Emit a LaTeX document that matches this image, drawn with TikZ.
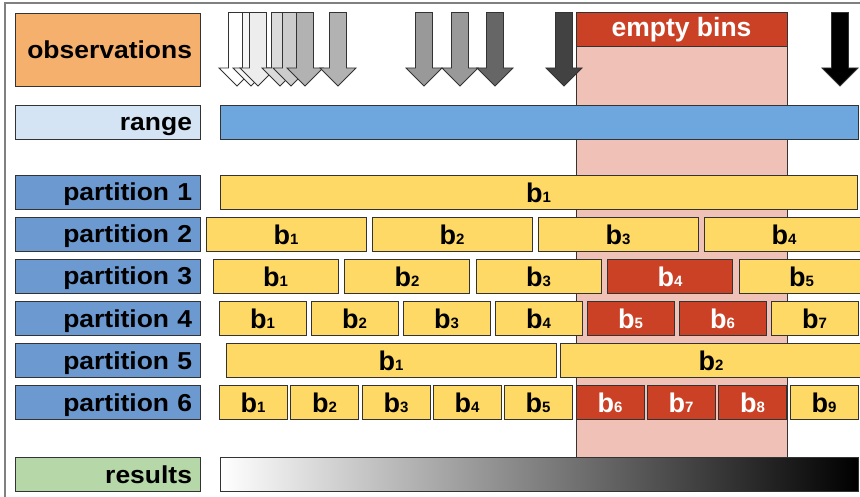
\documentclass[tikz,border=0pt]{standalone}
\usepackage{fontspec}
\setmainfont{Liberation Sans}
\newfontfamily\labfont{Liberation Sans}[FakeStretch=1.08]
\definecolor{linec}{HTML}{333333}
\definecolor{framec}{HTML}{808080}
\definecolor{obsc}{HTML}{F5B06D}
\definecolor{rangelab}{HTML}{D4E4F4}
\definecolor{rangebar}{HTML}{6DA7DD}
\definecolor{partc}{HTML}{6C9AD0}
\definecolor{resc}{HTML}{B6D8A8}
\definecolor{yelc}{HTML}{FED966}
\definecolor{redc}{HTML}{CB4125}
\definecolor{pinkc}{HTML}{F0C1B6}
\tikzset{
  boxline/.style={draw=linec, line width=0.9pt},
  labbox/.style={boxline, minimum width=185pt, minimum height=34pt, inner xsep=8pt, inner ysep=0pt,
     text width=169pt, align=right, text height=18pt, text depth=0pt,
     font={\labfont\bfseries\fontsize{24.5}{24.5}\selectfont}},
  binbox/.style={boxline, minimum height=34pt, inner sep=0pt, text height=21pt, text depth=0pt,
     font={\bfseries\fontsize{27}{27}\selectfont}},
  ybin/.style={fill=yelc, text=black},
  rbin/.style={fill=redc, text=white},
  obsarr/.style={draw=linec, line width=0.8pt, line join=miter},
}
\newcommand\bsub[1]{{\fontsize{15}{15}\selectfont #1}}
\newcommand\bin[6]{\node[binbox,#5,minimum width={#3-#2}] (#1) at ({(#2+#3)/2},{#4+17}) {b\bsub{#6}};}
\newcommand\obsarrow[2]{\draw[obsarr,fill=#2] ({#1-8.5},12.5) -- ({#1+8.5},12.5) -- ({#1+8.5},68) -- ({#1+18},68) -- (#1,86) -- ({#1-18},68) -- ({#1-8.5},68) -- cycle;}
\begin{document}
\begin{tikzpicture}[x=1pt,y=-1pt]
\path[use as bounding box] (0,0) rectangle (860,497);
\clip (0,0) rectangle (860,497);
\fill[white] (0,0) rectangle (860,497);
% frame
\draw[framec, line width=1.2pt] (5,497) -- (5,3) -- (860,3);
% empty bins column
\draw[boxline, fill=pinkc] (576,46) rectangle (787,457);
\node[boxline, fill=redc, text=white, minimum width=211pt, minimum height=34pt, inner sep=0pt,
  text height=16pt, text depth=0pt, font={\bfseries\fontsize{26.5}{26.5}\selectfont}] (empty) at (681.5,29) {empty bins};
% observation arrows
\obsarrow{237}{white}
\obsarrow{251}{white!96!black}
\obsarrow{258}{white!93!black}
\obsarrow{280}{white!86!black}
\obsarrow{291}{white!80!black}
\obsarrow{305}{white!70!black}
\obsarrow{338}{white!70!black}
\obsarrow{424}{white!60!black}
\obsarrow{460}{white!60!black}
\obsarrow{495}{white!40!black}
\obsarrow{564}{white!26!black}
\obsarrow{840}{black}
% labels
\node[labbox, fill=obsc, minimum height=73pt, text height=19pt] (obs) at (107.5,49.5) {observations};
\node[labbox, fill=rangelab] (range) at (107.5,122) {range};
\node[labbox, fill=partc] (p1) at (107.5,192) {partition 1};
\node[labbox, fill=partc] (p2) at (107.5,234) {partition 2};
\node[labbox, fill=partc] (p3) at (107.5,276) {partition 3};
\node[labbox, fill=partc] (p4) at (107.5,318) {partition 4};
\node[labbox, fill=partc] (p5) at (107.5,360) {partition 5};
\node[labbox, fill=partc] (p6) at (107.5,402) {partition 6};
\node[labbox, fill=resc] (res) at (107.5,474) {results};
% range bar
\node[boxline, fill=rangebar, minimum width=638pt, minimum height=34pt, inner sep=0pt] (rangebar) at (539,122) {};
% partition 1
\bin{pa1}{220}{857}{175}{ybin}{1}
% partition 2
\bin{pb1}{206}{366}{217}{ybin}{1}
\bin{pb2}{372}{532}{217}{ybin}{2}
\bin{pb3}{538}{698}{217}{ybin}{3}
\bin{pb4}{704}{864}{217}{ybin}{4}
% partition 3
\bin{pc1}{213}{338}{259}{ybin}{1}
\bin{pc2}{344.5}{469.5}{259}{ybin}{2}
\bin{pc3}{476}{601}{259}{ybin}{3}
\bin{pc4}{607.5}{732.5}{259}{rbin}{4}
\bin{pc5}{739}{864}{259}{ybin}{5}
% partition 4
\bin{pd1}{219}{306}{301}{ybin}{1}
\bin{pd2}{311}{398}{301}{ybin}{2}
\bin{pd3}{403}{490}{301}{ybin}{3}
\bin{pd4}{495}{582}{301}{ybin}{4}
\bin{pd5}{587}{674}{301}{rbin}{5}
\bin{pd6}{679}{766}{301}{rbin}{6}
\bin{pd7}{771}{858}{301}{ybin}{7}
% partition 5
\bin{pe1}{226}{556}{343}{ybin}{1}
\bin{pe2}{560}{862}{343}{ybin}{2}
% partition 6
\bin{pf1}{219}{287}{385}{ybin}{1}
\bin{pf2}{290.5}{358.5}{385}{ybin}{2}
\bin{pf3}{362}{430}{385}{ybin}{3}
\bin{pf4}{433}{501}{385}{ybin}{4}
\bin{pf5}{504}{572}{385}{ybin}{5}
\bin{pf6}{576}{644}{385}{rbin}{6}
\bin{pf7}{647}{715}{385}{rbin}{7}
\bin{pf8}{718.5}{786.5}{385}{rbin}{8}
\bin{pf9}{790}{858}{385}{ybin}{9}
% results bar
\node[boxline, left color=white, right color=black, minimum width=638pt, minimum height=34pt, inner sep=0pt] (resbar) at (539,474) {};
\end{tikzpicture}
\end{document}
